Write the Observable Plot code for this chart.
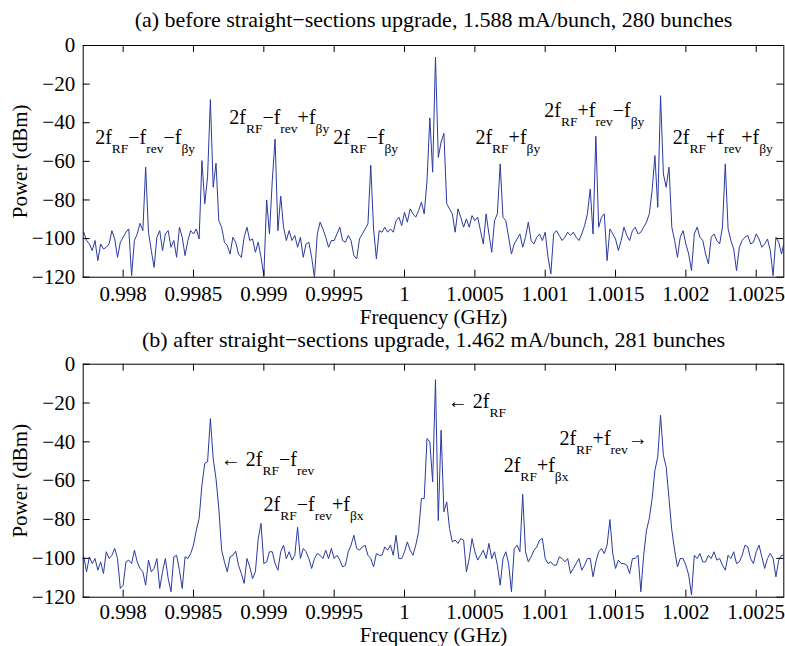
<!DOCTYPE html>
<html><head><meta charset="utf-8">
<script src="https://cdn.jsdelivr.net/npm/d3@7"></script>
<script src="https://cdn.jsdelivr.net/npm/@observablehq/plot@0.6"></script>
<style>
html,body{margin:0;padding:0;background:#fff;}
#chart{width:785px;height:646px;position:relative;overflow:hidden;background:#fff;}
#chart svg{display:block;}
</style></head><body><div id="chart"></div>
<script>
// Frequency grid (GHz), shared by both spectra
const frequencyGHz = [
0.99772,0.99774,0.99776,0.99778,0.99780,0.99782,0.99784,0.99786,0.99788,0.99790,
0.99792,0.99794,0.99796,0.99798,0.99800,0.99802,0.99804,0.99806,0.99808,0.99810,
0.99812,0.99814,0.99816,0.99818,0.99820,0.99822,0.99824,0.99826,0.99828,0.99830,
0.99832,0.99834,0.99836,0.99838,0.99840,0.99842,0.99844,0.99846,0.99848,0.99850,
0.99852,0.99854,0.99856,0.99858,0.99860,0.99862,0.99864,0.99866,0.99868,0.99870,
0.99872,0.99874,0.99876,0.99878,0.99880,0.99882,0.99884,0.99886,0.99888,0.99890,
0.99892,0.99894,0.99896,0.99898,0.99900,0.99902,0.99904,0.99906,0.99908,0.99910,
0.99912,0.99914,0.99916,0.99918,0.99920,0.99922,0.99924,0.99926,0.99928,0.99930,
0.99932,0.99934,0.99936,0.99938,0.99940,0.99942,0.99944,0.99946,0.99948,0.99950,
0.99952,0.99954,0.99956,0.99958,0.99960,0.99962,0.99964,0.99966,0.99968,0.99970,
0.99972,0.99974,0.99976,0.99978,0.99980,0.99982,0.99984,0.99986,0.99988,0.99990,
0.99992,0.99994,0.99996,0.99998,1.00000,1.00002,1.00004,1.00006,1.00008,1.00010,
1.00012,1.00014,1.00016,1.00018,1.00020,1.00022,1.00024,1.00026,1.00028,1.00030,
1.00032,1.00034,1.00036,1.00038,1.00040,1.00042,1.00044,1.00046,1.00048,1.00050,
1.00052,1.00054,1.00056,1.00058,1.00060,1.00062,1.00064,1.00066,1.00068,1.00070,
1.00072,1.00074,1.00076,1.00078,1.00080,1.00082,1.00084,1.00086,1.00088,1.00090,
1.00092,1.00094,1.00096,1.00098,1.00100,1.00102,1.00104,1.00106,1.00108,1.00110,
1.00112,1.00114,1.00116,1.00118,1.00120,1.00122,1.00124,1.00126,1.00128,1.00130,
1.00132,1.00134,1.00136,1.00138,1.00140,1.00142,1.00144,1.00146,1.00148,1.00150,
1.00152,1.00154,1.00156,1.00158,1.00160,1.00162,1.00164,1.00166,1.00168,1.00170,
1.00172,1.00174,1.00176,1.00178,1.00180,1.00182,1.00184,1.00186,1.00188,1.00190,
1.00192,1.00194,1.00196,1.00198,1.00200,1.00202,1.00204,1.00206,1.00208,1.00210,
1.00212,1.00214,1.00216,1.00218,1.00220,1.00222,1.00224,1.00226,1.00228,1.00230,
1.00232,1.00234,1.00236,1.00238,1.00240,1.00242,1.00244,1.00246,1.00248,1.00250,
1.00252,1.00254,1.00256,1.00258,1.00260,1.00262,1.00264,1.00266,1.00268,1.00270
];

// (a) before upgrade, power in dBm
const powerBefore = [
-96.7,-101.0,-102.8,-106.2,-101.0,-111.4,-102.8,-105.4,-104.5,-102.8,
-95.9,-100.2,-109.7,-101.9,-99.3,-96.7,-95.0,-119.2,-101.0,-97.6,
-92.1,-95.9,-63.0,-96.7,-106.2,-114.9,-99.3,-95.9,-106.2,-97.6,
-95.9,-104.5,-101.0,-109.7,-94.1,-99.3,-108.8,-101.0,-95.9,-97.6,
-95.0,-100.2,-59.6,-82.0,-68.0,-28.0,-73.4,-61.0,-90.7,-94.1,
-101.9,-103.6,-108.0,-99.3,-101.9,-108.0,-109.7,-99.3,-94.1,-101.0,
-100.2,-107.1,-101.9,-109.7,-119.2,-80.0,-97.6,-70.0,-48.5,-95.9,
-78.0,-94.1,-101.0,-95.9,-101.0,-98.4,-104.5,-99.3,-109.7,-102.8,
-101.9,-109.7,-120.0,-97.6,-91.5,-95.0,-99.3,-104.5,-101.0,-101.0,
-97.6,-94.1,-101.0,-101.9,-98.4,-101.0,-108.8,-110.5,-100.2,-97.6,
-95.0,-92.4,-62.0,-95.0,-110.5,-95.9,-96.7,-94.1,-96.7,-95.0,
-96.7,-90.7,-88.9,-93.3,-86.4,-91.5,-84.6,-87.2,-88.9,-85.5,
-81.2,-87.2,-70.0,-37.5,-65.6,-6.0,-58.0,-50.0,-45.5,-82.0,
-84.6,-87.2,-96.7,-84.6,-88.9,-94.1,-89.8,-94.1,-88.1,-90.7,
-88.9,-95.9,-102.8,-87.2,-97.6,-107.1,-90.7,-87.2,-61.3,-89.0,
-90.7,-99.3,-108.0,-102.8,-100.2,-97.6,-104.5,-99.3,-91.5,-101.0,
-102.8,-99.3,-97.6,-101.0,-96.7,-109.7,-118.3,-97.6,-95.9,-98.4,
-101.0,-99.3,-96.7,-98.4,-96.7,-99.3,-101.0,-97.6,-93.3,-87.2,
-74.3,-97.6,-47.0,-94.1,-88.9,-87.2,-111.4,-95.0,-97.6,-100.2,
-106.2,-101.0,-94.1,-98.4,-101.0,-95.9,-94.1,-97.6,-96.7,-94.1,
-91.5,-87.2,-75.1,-57.0,-83.8,-26.0,-66.5,-73.4,-63.0,-94.1,
-101.0,-109.7,-99.3,-95.9,-102.8,-108.0,-116.6,-97.6,-94.1,-99.3,
-101.0,-108.0,-113.1,-99.3,-97.6,-101.0,-102.8,-94.1,-61.3,-95.0,
-101.0,-105.4,-116.6,-104.5,-101.0,-99.3,-98.4,-102.8,-101.9,-97.6,
-100.2,-104.5,-102.8,-100.2,-106.2,-119.2,-99.3,-101.9,-108.0,-101.0
];

// (b) after upgrade, power in dBm
const powerAfter = [
-99.2,-106.9,-99.2,-102.7,-100.1,-106.1,-101.8,-107.8,-96.6,-100.1,
-98.4,-94.9,-100.1,-115.5,-113.8,-101.8,-100.9,-102.7,-95.8,-101.8,
-105.2,-106.9,-113.8,-100.9,-106.9,-105.2,-100.1,-115.5,-106.9,-100.1,
-110.4,-117.2,-99.2,-98.4,-106.1,-115.5,-99.2,-100.1,-97.5,-93.2,
-85.5,-79.5,-62.3,-51.1,-50.3,-28.0,-48.6,-58.9,-74.3,-95.8,
-101.8,-106.9,-99.2,-98.4,-96.3,-103.5,-107.8,-112.9,-100.1,-104.4,
-110.4,-106.9,-89.8,-82.0,-102.7,-101.8,-96.6,-96.6,-102.7,-106.1,
-96.6,-93.2,-100.1,-96.6,-100.9,-98.4,-84.0,-100.1,-94.9,-96.6,
-100.1,-105.2,-100.1,-97.5,-98.4,-100.1,-95.8,-100.1,-94.9,-100.1,
-98.4,-100.9,-104.4,-103.5,-96.6,-93.2,-88.1,-94.9,-95.8,-94.1,
-93.2,-98.4,-100.1,-104.4,-97.5,-98.4,-98.4,-94.1,-95.8,-93.2,
-98.4,-88.1,-100.1,-100.1,-96.6,-91.5,-95.8,-98.4,-93.2,-86.3,
-69.2,-69.2,-38.3,-40.0,-60.6,-8.0,-80.5,-34.0,-76.0,-70.9,
-84.6,-91.5,-90.6,-92.3,-89.8,-90.6,-106.9,-100.1,-89.8,-96.6,
-100.9,-98.4,-95.8,-100.1,-92.3,-100.1,-96.6,-103.5,-113.8,-100.1,
-96.6,-102.7,-117.2,-94.9,-93.2,-96.6,-67.0,-96.6,-101.8,-99.2,
-95.8,-94.1,-90.6,-89.8,-100.1,-102.7,-101.8,-103.5,-103.5,-99.2,
-100.1,-101.8,-100.1,-107.8,-105.2,-102.7,-100.1,-106.1,-103.5,-100.1,
-100.1,-109.5,-101.8,-96.6,-94.9,-97.5,-93.2,-80.0,-97.5,-105.2,
-100.9,-102.7,-102.7,-103.5,-107.8,-100.1,-100.1,-98.4,-117.2,-98.4,
-85.5,-79.5,-69.2,-54.6,-47.7,-26.3,-46.9,-52.9,-69.2,-85.5,
-95.8,-104.4,-100.1,-100.1,-103.5,-108.6,-118.9,-98.4,-100.1,-97.5,
-101.8,-101.8,-98.4,-100.1,-96.6,-100.9,-100.1,-103.5,-106.1,-98.4,
-100.1,-96.6,-102.7,-101.8,-98.4,-93.2,-94.1,-100.1,-102.7,-96.6,
-93.2,-99.2,-105.2,-100.1,-97.5,-100.1,-109.5,-100.9,-98.4,-98.4
];

const xTicks = [0.998, 0.9985, 0.999, 0.9995, 1, 1.0005, 1.001, 1.0015, 1.002, 1.0025];
const xTickLabels = ["0.998", "0.9985", "0.999", "0.9995", "1", "1.0005", "1.001", "1.0015", "1.002", "1.0025"];
const yTicks = [-120, -100, -80, -60, -40, -20, 0];
const yTickLabels = ["\u2212120", "\u2212100", "\u221280", "\u221260", "\u221240", "\u221220", "0"];

const titleBefore = "(a) before straight\u2212sections upgrade, 1.588 mA/bunch, 280 bunches";
const titleAfter = "(b) after straight\u2212sections upgrade, 1.462 mA/bunch, 281 bunches";
const xLabel = "Frequency (GHz)";
const yLabel = "Power (dBm)";

// annotation labels: text anchor (GHz, dBm); _{...} marks a subscript
const notesBefore = [
  {label: "2f_{RF}\u2212f_{rev}\u2212f_{\u03b2y}", f: 0.997801, p: -47.6},
  {label: "2f_{RF}\u2212f_{rev}+f_{\u03b2y}", f: 0.998754, p: -37.3},
  {label: "2f_{RF}\u2212f_{\u03b2y}", f: 0.999494, p: -47.6},
  {label: "2f_{RF}+f_{\u03b2y}", f: 1.000504, p: -47.6},
  {label: "2f_{RF}+f_{rev}\u2212f_{\u03b2y}", f: 1.000994, p: -33.8},
  {label: "2f_{RF}+f_{rev}+f_{\u03b2y}", f: 1.001907, p: -47.6}
];
const notesAfter = [
  {label: "\u2190 2f_{RF}\u2212f_{rev}", f: 0.998694, p: -48.9},
  {label: "2f_{RF}\u2212f_{rev}+f_{\u03b2x}", f: 0.998998, p: -72.4},
  {label: "\u2190 2f_{RF}", f: 1.000307, p: -19.2},
  {label: "2f_{RF}+f_{rev}\u2192", f: 1.001101, p: -38.1},
  {label: "2f_{RF}+f_{\u03b2x}", f: 1.000705, p: -52.1}
];

const FONT = "'Liberation Serif', 'Times New Roman', serif";
const LINE = "#2a3aa0";
const SUB_SIZE = 13.5, SUB_SHIFT = 9;

function subscriptify(svg) {
  const NS = "http://www.w3.org/2000/svg";
  svg.querySelectorAll("text").forEach(t => {
    const raw = t.textContent;
    if (!raw.includes("_{")) return;
    while (t.firstChild) t.removeChild(t.firstChild);
    const parts = raw.split(/(_\{[^}]*\})/);
    let low = false;
    for (const part of parts) {
      if (!part) continue;
      const ts = document.createElementNS(NS, "tspan");
      if (part.startsWith("_{")) {
        ts.textContent = part.slice(2, -1);
        ts.setAttribute("font-size", SUB_SIZE);
        if (!low) ts.setAttribute("dy", SUB_SHIFT);
        low = true;
      } else {
        ts.textContent = part;
        if (low) ts.setAttribute("dy", -SUB_SHIFT);
        low = false;
      }
      t.appendChild(ts);
    }
  });
}

function panel({power, title, notes, height, marginTop, marginBottom, titleDy, xlabelDy, tickPad}) {
  const data = frequencyGHz.map((f, i) => ({f, p: power[i]}));
  const W = 785, mL = 82.7, mR = 1.7, T = 7;
  const fw = W - mL - mR, fh = height - marginTop - marginBottom;
  const svg = Plot.plot({
    width: W, height, marginLeft: mL, marginRight: mR, marginTop, marginBottom,
    style: {fontFamily: FONT, fontSize: "21px", background: "#fff", color: "#000", overflow: "visible"},
    x: {domain: [0.997716, 1.002696]},
    y: {domain: [-120, 0]},
    marks: [
      Plot.line(data, {x: "f", y: "p", stroke: LINE, strokeWidth: 1, clip: true}),
      Plot.ruleX(xTicks, {x: d => d, insetTop: fh - T, stroke: "#000"}),
      Plot.ruleX(xTicks, {x: d => d, insetBottom: fh - T, stroke: "#000"}),
      Plot.ruleY(yTicks, {y: d => d, insetRight: fw - T, stroke: "#000"}),
      Plot.ruleY(yTicks, {y: d => d, insetLeft: fw - T, stroke: "#000"}),
      Plot.frame({stroke: "#000"}),
      Plot.axisX({ticks: xTicks, tickSize: 0, tickPadding: tickPad, label: null, fontSize: 21,
        tickFormat: d => xTickLabels[xTicks.indexOf(d)]}),
      Plot.axisY({ticks: yTicks, tickSize: 0, tickPadding: 8, label: null, fontSize: 21,
        tickFormat: d => yTickLabels[yTicks.indexOf(d)]}),
      Plot.text([title], {text: d => d, frameAnchor: "top", lineAnchor: "middle", dy: titleDy, fontSize: 22, fill: "#000"}),
      Plot.text([xLabel], {text: d => d, frameAnchor: "bottom", lineAnchor: "middle", dy: xlabelDy, fontSize: 21, fill: "#000"}),
      Plot.text([yLabel], {text: d => d, frameAnchor: "left", textAnchor: "middle", lineAnchor: "middle", dx: -62.7, rotate: -90, fontSize: 21, fill: "#000"}),
      Plot.text(notes, {x: "f", y: "p", text: "label", textAnchor: "start", lineAnchor: "middle", fontSize: 20, fill: "#000"})
    ]
  });
  subscriptify(svg);
  return svg;
}

const chart = document.getElementById("chart");
chart.appendChild(panel({power: powerBefore, title: titleBefore, notes: notesBefore,
  height: 323, marginTop: 45, marginBottom: 46.3, titleDy: -25.3, xlabelDy: 39.9, tickPad: 8.5}));
chart.appendChild(panel({power: powerAfter, title: titleAfter, notes: notesAfter,
  height: 323, marginTop: 40.7, marginBottom: 49.3, titleDy: -24.5, xlabelDy: 38.0, tickPad: 6.5}));
</script>
</body></html>
